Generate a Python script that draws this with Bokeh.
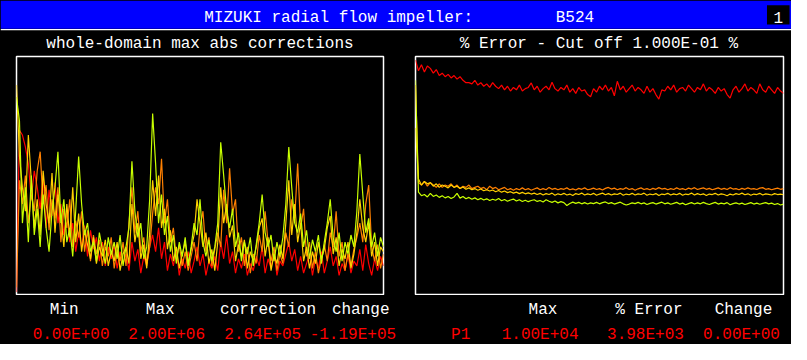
from bokeh.plotting import figure
from bokeh.models import Range1d, Label
from bokeh.layouts import column, row
from bokeh.embed import file_html
from bokeh.resources import INLINE

# ---------------- data ----------------
iterations = list(range(125))

# left panel: whole-domain max abs corrections (relative scale 0..100)
corr_red = [1, 69, 67, 62, 55, 40, 52, 45, 36, 50,
            28, 44, 33, 47, 30, 38, 25, 35, 22, 30,
            18, 26, 20, 29, 16, 27, 19, 24, 14, 22,
            12, 20, 15, 21, 11, 18, 13, 17, 10, 22,
            14, 19, 9, 16, 12, 20, 25, 18, 28, 15,
            22, 10, 17, 12, 19, 8, 15, 11, 18, 9,
            14, 20, 12, 17, 8, 14, 11, 16, 10, 22,
            15, 25, 13, 18, 9, 15, 11, 17, 8, 13,
            10, 16, 12, 20, 9, 15, 11, 18, 8, 14,
            12, 17, 22, 14, 19, 10, 16, 9, 13, 17,
            8, 15, 11, 18, 9, 14, 20, 12, 16, 8,
            13, 10, 17, 9, 14, 12, 19, 10, 21, 13,
            8, 15, 10, 16, 12]
corr_orange = [3, 48, 38, 50, 30, 42, 35, 52, 60, 38,
               46, 27, 40, 32, 45, 22, 36, 28, 40, 20,
               31, 24, 35, 18, 27, 14, 25, 17, 23, 12,
               20, 16, 24, 11, 19, 14, 22, 12, 30, 45,
               26, 35, 18, 24, 13, 20, 34, 45, 38, 57,
               30, 40, 22, 28, 15, 21, 12, 18, 10, 16,
               22, 14, 28, 35, 18, 24, 12, 19, 26, 20,
               44, 30, 53, 34, 40, 18, 24, 12, 20, 9,
               17, 13, 25, 18, 35, 22, 14, 20, 10, 17,
               13, 26, 20, 40, 32, 55, 28, 36, 16, 22,
               11, 18, 9, 15, 21, 14, 26, 20, 35, 16,
               22, 10, 17, 12, 19, 24, 30, 22, 38, 46,
               20, 14, 21, 11, 17]
corr_yellow = [88, 58, 45, 35, 67, 48, 28, 40, 25, 52,
               38, 30, 51, 26, 42, 33, 20, 38, 24, 45,
               22, 34, 18, 27, 21, 15, 24, 13, 20, 16,
               23, 12, 18, 14, 22, 10, 17, 20, 13, 38,
               22, 30, 15, 21, 11, 26, 48, 33, 50, 28,
               36, 19, 27, 14, 20, 11, 17, 22, 13, 19,
               25, 40, 30, 20, 26, 13, 19, 10, 22, 45,
               30, 38, 24, 29, 14, 21, 16, 23, 11, 18,
               14, 20, 28, 32, 16, 24, 10, 17, 13, 21,
               15, 30, 48, 25, 38, 22, 30, 14, 20, 11,
               18, 13, 22, 15, 19, 28, 33, 17, 24, 12,
               19, 15, 22, 11, 17, 26, 40, 28, 22, 30,
               16, 22, 12, 20, 18]
corr_lime = [83, 73, 30, 45, 22, 50, 25, 36, 20, 42,
             28, 18, 35, 45, 60, 30, 40, 22, 28, 16,
             35, 58, 38, 25, 30, 18, 22, 14, 26, 19,
             13, 24, 17, 22, 15, 25, 12, 20, 28, 56,
             35, 24, 30, 15, 20, 40, 76, 55, 30, 42,
             25, 33, 18, 25, 13, 22, 16, 24, 12, 20,
             30, 25, 40, 22, 16, 23, 14, 20, 30, 64,
             50, 35, 28, 36, 20, 26, 14, 22, 17, 24,
             12, 21, 30, 42, 26, 20, 25, 14, 22, 16,
             24, 38, 62, 45, 30, 26, 34, 20, 27, 15,
             23, 18, 25, 13, 22, 30, 40, 24, 18, 26,
             14, 22, 17, 25, 20, 35, 59, 42, 26, 32,
             20, 26, 16, 24, 20]

# right panel: % error (relative scale 0..100)
err_red = [98.5, 94, 96.5, 93.5, 96, 95, 93, 94.5, 92, 93,
           91.5, 92.5, 91, 92, 90.5, 91.5, 90, 89, 89, 88.5,
           90, 88, 89, 87.5, 88.5, 87, 89, 87.5, 86.5, 88,
           86, 87.5, 85.5, 87, 86, 88, 85.5, 86.5, 87, 88.9,
           86, 87.5, 85, 86.5, 87.5, 86, 89.2, 86.5, 85.5, 87,
           86, 88, 85, 86.5, 84.5, 87, 85.5, 86, 84, 83.1,
           86.5, 85, 87.5, 86, 88, 85.5, 87, 83.5, 89.6, 86,
           87.5, 85, 86.5, 88, 85.5, 87, 86, 84.5, 87.5, 85,
           86.5, 84, 82.1, 86, 85.5, 87.5, 86, 88, 85, 86.5,
           87, 85.5, 88, 86.5, 85, 87, 86, 88.5, 85.5, 87,
           86, 84.5, 87, 85.5, 86.5, 84, 82.5, 86, 87.5, 85,
           86.5, 88.5, 85.5, 87, 86, 84.5, 88.5, 86, 85, 87.5,
           86, 84.5, 87, 85.5, 84.5]
err_orange = [88, 47, 46, 47.5, 45.5, 47, 46, 45, 46.5, 45,
              46, 45.5, 46.5, 45, 46, 44.5, 45.5, 45, 46, 44.5,
              45, 45.5, 44.5, 45, 44, 45.5, 44.5, 45, 44, 44.5,
              45, 44, 44.5, 43.8, 44.5, 44, 44.8, 44, 44.5, 43.8,
              44.3, 44.8, 44, 44.5, 44, 45, 44.2, 44.6, 44, 44.5,
              44.2, 44.8, 44, 44.4, 43.9, 44.6, 44.2, 44.8, 44, 44.3,
              44.7, 44.1, 44.5, 43.9, 44.6, 45, 44.3, 44.7, 44, 44.5,
              44.2, 44.9, 44.1, 44.5, 43.8, 44.4, 44.8, 44.1, 44.5, 44,
              44.6, 44.2, 44.9, 44.3, 44.6, 44, 44.5, 44.1, 44.8, 44.2,
              44.5, 44, 44.7, 44.3, 44.9, 44.1, 44.5, 44.8, 44.2, 44.6,
              44, 44.4, 44.8, 44.2, 44.6, 44.1, 44.9, 44.3, 44.5, 44,
              44.6, 44.2, 44.8, 44.3, 44.5, 44.1, 44.7, 44.9, 44.2, 44.5,
              44, 44.4, 44.7, 44.2, 44.5]
err_yellow = [70, 48.5, 46, 47.5, 46.5, 47, 45.5, 46.5, 45, 46,
              45.5, 44.8, 46, 45, 45.5, 44.5, 45.2, 44.2, 44.8, 44,
              44.5, 43.8, 44.3, 43.6, 44, 43.5, 43.9, 43.2, 43.7, 43,
              43.5, 42.8, 43.2, 42.6, 43, 42.4, 42.9, 42.3, 42.7, 42.2,
              42.6, 42, 42.5, 41.8, 42.4, 42, 42.6, 41.7, 42.3, 41.9,
              42.5, 41.8, 42.2, 41.6, 42.4, 42, 42.6, 41.8, 42.3, 41.9,
              42.5, 41.7, 42.2, 42.6, 41.9, 42.4, 41.8, 42.3, 42, 42.6,
              41.7, 42.2, 41.9, 42.5, 41.8, 42.3, 42, 42.6, 41.7, 42.2,
              41.9, 42.4, 41.6, 42.2, 42, 42.5, 41.8, 42.3, 41.9, 42.5,
              41.7, 42.2, 42, 42.6, 41.8, 42.4, 41.9, 42.3, 41.6, 42.2,
              42, 42.5, 41.8, 42.3, 42, 41.5, 42.2, 41.8, 42.4, 42,
              42.6, 41.9, 42.3, 41.7, 42.2, 42, 42.5, 41.8, 42.3, 42.1,
              41.8, 42.4, 42, 42.2, 41.9]
err_lime = [90, 43, 41.5, 42, 41, 42.5, 41.2, 41.8, 40.8, 41.5,
            40.6, 41.2, 40.3, 41, 42.5, 40.5, 41.2, 40.2, 40.8, 40,
            40.6, 39.8, 40.4, 39.7, 40.2, 39.5, 40, 39.6, 40.3, 39.4,
            39.9, 39.2, 39.7, 40.1, 39.3, 39.8, 39.1, 39.6, 39, 39.5,
            39.8, 39.1, 39.5, 38.9, 39.8, 39.2, 38.7, 39.3, 38.5, 39,
            38.6, 37.4, 38.2, 38.8, 38.3, 38.7, 38.1, 38.6, 38, 38.5,
            38.2, 38.7, 38.1, 38.6, 38.9, 38.2, 38.6, 38, 38.4, 38.8,
            38.1, 37.6, 38, 38.5, 38.2, 38.7, 38.1, 38.5, 37.8, 38.3,
            38.6, 38, 38.4, 38.8, 38.1, 38.5, 37.9, 38.3, 38.7, 38,
            38.4, 37.7, 38.2, 38.6, 38, 38.5, 38.1, 38.7, 38.2, 37.8,
            38.3, 38.7, 38, 38.4, 38.1, 38.6, 37.7, 38.2, 38.5, 38,
            38.4, 37.8, 38.2, 38.6, 38, 38.4, 37.9, 38.3, 38.6, 38.1,
            38.4, 37.8, 38.2, 37.6, 38]

header_title = "MIZUKI radial flow impeller:"
header_case = "B524"
header_page = "1"
left_title = "whole-domain max abs corrections"
right_title = "% Error - Cut off 1.000E-01 %"
left_heads = ["Min", "Max", "correction", "change"]
left_values = ["0.00E+00", "2.00E+06", "2.64E+05", "-1.19E+05"]
right_heads = ["Max", "% Error", "Change"]
right_values = ["P1", "1.00E+04", "3.98E+03", "0.00E+00"]

# ---------------- style ----------------
FONT = "Liberation Mono"
FS = "16px"
RED, ORANGE, YELLOW, LIME = "#ff0000", "#ff8000", "#ffd000", "#c8ff00"
BLUE = "#0000ff"
W = 791
BLACK_BG = {"background-color": "black"}


def chrome(height, y_top, y_bottom):
    """A strip whose coordinates are the reference picture's pixels."""
    f = figure(width=W, height=height, x_range=Range1d(0, 807),
               y_range=Range1d(y_bottom, y_top), x_axis_type=None, y_axis_type=None,
               toolbar_location=None, output_backend="svg", min_border=0,
               background_fill_color="black", border_fill_color="black",
               outline_line_color=None)
    return f


def put(f, txt, x, y, color="white"):
    f.add_layout(Label(x=x, y=y, text=txt, text_color=color, text_font=FONT,
                       text_font_size=FS, text_align="center", text_baseline="alphabetic"))


# header band + panel titles (page rows 0..55)
top = chrome(55, 0, 57.55)
top.quad(left=[0], right=[807], top=[0], bottom=[29.5], fill_color=BLUE, line_color=None)
top.quad(left=[0], right=[807], top=[29.8], bottom=[31.2], fill_color="white", line_color=None)
top.quad(left=[782], right=[805], top=[5], bottom=[25], fill_color="black", line_color=None)
put(top, header_title, 345, 18.4)
put(top, header_case, 586, 18.4)
put(top, header_page, 793.5, 18.2)
put(top, left_title, 203.5, 45.8)
put(top, right_title, 610.5, 45.8)

# footer (page rows 295..344)
ftr = chrome(49, 308.7, 360)
for t, xc in zip(left_heads, [65, 163, 273, 367.5]):
    put(ftr, t, xc, 323.8)
for t, xc in zip(right_heads, [553.5, 661.5, 758]):
    put(ftr, t, xc, 323.8)
for t, xc in zip(left_values, [72, 169.5, 267.5, 359.5]):
    put(ftr, t, xc, 350.2, RED)
for t, xc in zip(right_values, [469.5, 550.5, 658, 756]):
    put(ftr, t, xc, 350.2, RED)


def panel(width, border_right, series):
    p = figure(width=width, height=240, x_range=Range1d(0, 124), y_range=Range1d(0, 100),
               x_axis_type=None, y_axis_type=None, toolbar_location=None,
               output_backend="svg", min_border_left=16, min_border_right=border_right,
               min_border_top=1, min_border_bottom=1,
               background_fill_color="black", border_fill_color="black",
               outline_line_color="white", outline_line_width=1.5)
    for ys, c in series:
        p.line(iterations, ys, line_color=c, line_width=1.2)
    return p


left = panel(399, 16, [(corr_red, RED), (corr_orange, ORANGE),
                       (corr_yellow, YELLOW), (corr_lime, LIME)])
right = panel(392, 8, [(err_red, RED), (err_orange, ORANGE),
                       (err_yellow, YELLOW), (err_lime, LIME)])

layout = column(top, row(left, right, spacing=0, styles=BLACK_BG), ftr,
                spacing=0, styles=BLACK_BG)
open("out.html", "w").write(file_html(layout, INLINE))
